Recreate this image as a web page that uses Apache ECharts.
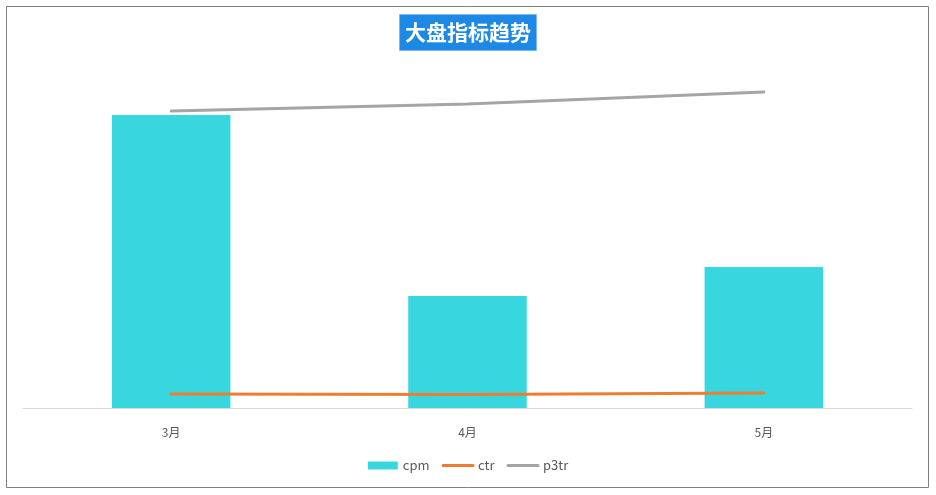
<!DOCTYPE html>
<html>
<head>
<meta charset="utf-8">
<script src="https://cdn.jsdelivr.net/npm/echarts@6/dist/echarts.min.js"></script>
<style>
  html, body { margin: 0; padding: 0; background: #fff; }
  #main { width: 936px; height: 495px; }
</style>
</head>
<body>
<div id="main"></div>
<script>
// 数据
var months = ['3月', '4月', '5月'];
var cpm = [293, 112, 141];
var ctr = [14, 13.5, 15];
var p3tr = [297, 304, 316];

var myChart = echarts.init(document.getElementById('main'));
myChart.setOption({
    animation: false,
    textStyle: { fontFamily: '"Noto Sans CJK SC", "Noto Sans", sans-serif' },
    graphic: [{
        type: 'rect',
        shape: { x: 6.5, y: 6.5, width: 922, height: 481 },
        style: { fill: 'none', stroke: '#808080', lineWidth: 1 },
        z: -1
    }],
    title: {
        text: '大盘指标趋势',
        left: 'center',
        top: 14,
        backgroundColor: '#1E88E5',
        borderColor: '#7DB8F0',
        borderWidth: 1,
        padding: [8, 6, 8, 6],
        textStyle: { color: '#fff', fontSize: 21, fontWeight: 'bold' }
    },
    legend: {
        bottom: 18,
        left: 'center',
        itemWidth: 30,
        itemHeight: 8,
        itemGap: 12,
        textStyle: { color: '#595959', fontSize: 13 },
        data: [
            { name: 'cpm', icon: 'rect' },
            { name: 'ctr', itemStyle: { opacity: 0 }, lineStyle: { width: 3 } },
            { name: 'p3tr', itemStyle: { opacity: 0 }, lineStyle: { width: 3 } }
        ]
    },
    grid: { left: 23, right: 24, top: 60, bottom: 87 },
    xAxis: {
        type: 'category',
        data: months,
        axisLine: { lineStyle: { color: '#D9D9D9', width: 1 } },
        axisTick: { show: false },
        axisLabel: { color: '#595959', fontSize: 12, margin: 18 }
    },
    yAxis: {
        type: 'value',
        min: 0,
        max: 348,
        show: false,
        splitLine: { show: false }
    },
    series: [
        {
            name: 'cpm',
            type: 'bar',
            data: cpm,
            barWidth: '40%',
            itemStyle: { color: '#38D7E0' }
        },
        {
            name: 'ctr',
            type: 'line',
            data: ctr,
            symbol: 'none',
            lineStyle: { color: '#ED7D31', width: 3, cap: 'round' },
            itemStyle: { color: '#ED7D31' }
        },
        {
            name: 'p3tr',
            type: 'line',
            data: p3tr,
            symbol: 'none',
            lineStyle: { color: '#A5A5A5', width: 3, cap: 'round' },
            itemStyle: { color: '#A5A5A5' }
        }
    ]
});
</script>
</body>
</html>
